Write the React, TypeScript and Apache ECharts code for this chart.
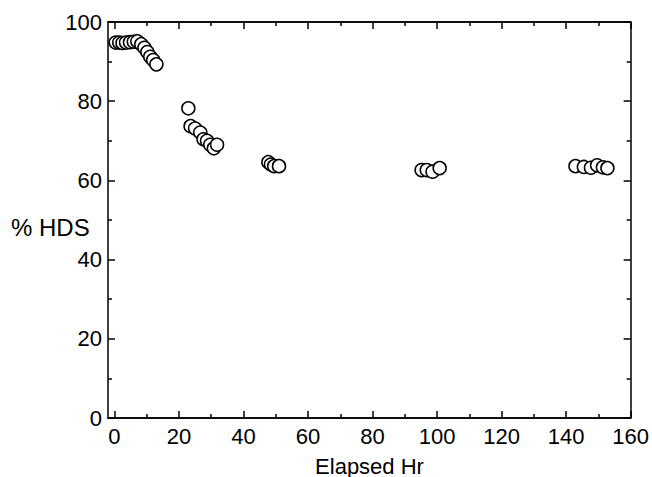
import React, { useEffect, useRef } from "react";
import * as echarts from "echarts";

const hours: number[] = [
  0.4, 1.5, 2.5, 3.6, 4.8, 6.0, 7.1, 8.3, 9.3, 10.2, 11.1, 12.0, 13.0,
  22.9, 23.6, 25.0, 26.6, 27.6, 28.7, 29.7, 30.8, 31.8,
  47.7, 48.5, 49.5, 51.0,
  95.2, 96.8, 98.6, 100.8,
  142.9, 145.5, 147.7, 149.6, 151.4, 152.8,
];
const hds: number[] = [
  94.8, 94.8, 94.7, 94.8, 94.9, 95.0, 95.1, 94.4, 93.5, 92.4, 91.2, 90.4, 89.3,
  78.2, 73.7, 73.1, 72.1, 70.4, 70.0, 69.0, 68.1, 69.0,
  64.6, 64.0, 63.6, 63.6,
  62.6, 62.6, 62.2, 63.1,
  63.6, 63.4, 63.2, 63.8, 63.3, 63.1,
];

const xMajorTicks: number[] = [0, 20, 40, 60, 80, 100, 120, 140, 160];
const xMinorTicks: number[] = [10, 30, 50, 70, 90, 110, 130, 150];

const xTitle = "Elapsed Hr";
const yTitle = "% HDS";

export default function App() {
  const ref = useRef<HTMLDivElement>(null);
  useEffect(() => {
    if (!ref.current) return;
    const chart = echarts.init(ref.current, undefined, { renderer: "svg" });
    const font = "'Liberation Sans', Arial, sans-serif";
    const lineStyle = { color: "#000", width: 1.5 };
    const mkX = (position: "bottom" | "top", ticks: number[], len: number, labels: boolean) => ({
      type: "value",
      position,
      min: -2,
      max: 160,
      axisLine: { show: true, onZero: false, lineStyle },
      axisTick: { show: true, inside: true, length: len, customValues: ticks, lineStyle },
      axisLabel: labels
        ? { show: true, customValues: xMajorTicks, color: "#000", fontSize: 22, fontFamily: font, margin: 7 }
        : { show: false },
      splitLine: { show: false },
    });
    const mkY = (position: "left" | "right", labels: boolean) => ({
      type: "value",
      position,
      min: 0,
      max: 100,
      interval: 20,
      axisLine: { show: true, onZero: false, lineStyle },
      axisTick: { show: true, inside: true, length: 7, lineStyle },
      minorTick: { show: true, splitNumber: 2, length: 4, lineStyle },
      axisLabel: labels
        ? { show: true, color: "#000", fontSize: 22, fontFamily: font, margin: 6 }
        : { show: false },
      splitLine: { show: false },
      minorSplitLine: { show: false },
    });
    chart.setOption({
      animation: false,
      backgroundColor: "#fff",
      grid: { left: 108, right: 21, top: 22, bottom: 59, containLabel: false },
      xAxis: [
        mkX("bottom", xMajorTicks, 7, true),
        mkX("bottom", xMinorTicks, 4, false),
        mkX("top", xMajorTicks, 7, false),
        mkX("top", xMinorTicks, 4, false),
      ],
      yAxis: [mkY("left", true), mkY("right", false)],
      graphic: [
        {
          type: "text",
          x: 369.5,
          y: 466,
          style: {
            text: xTitle,
            fill: "#000",
            font: `22px ${font}`,
            textAlign: "center",
            textVerticalAlign: "middle",
          },
        },
        {
          type: "text",
          x: 11,
          y: 227,
          style: {
            text: yTitle,
            fill: "#000",
            font: `24px ${font}`,
            textAlign: "left",
            textVerticalAlign: "middle",
          },
        },
      ],
      series: [
        {
          type: "scatter",
          xAxisIndex: 0,
          yAxisIndex: 0,
          symbol: "circle",
          symbolSize: 13,
          itemStyle: { color: "#fff", borderColor: "#000", borderWidth: 1.5, opacity: 1 },
          data: hours.map((h, i) => [h, hds[i]]),
        },
      ],
    });
    return () => chart.dispose();
  }, []);
  return (
    <div
      ref={ref}
      style={{ position: "fixed", left: 0, top: 0, width: 652, height: 477 }}
    />
  );
}
